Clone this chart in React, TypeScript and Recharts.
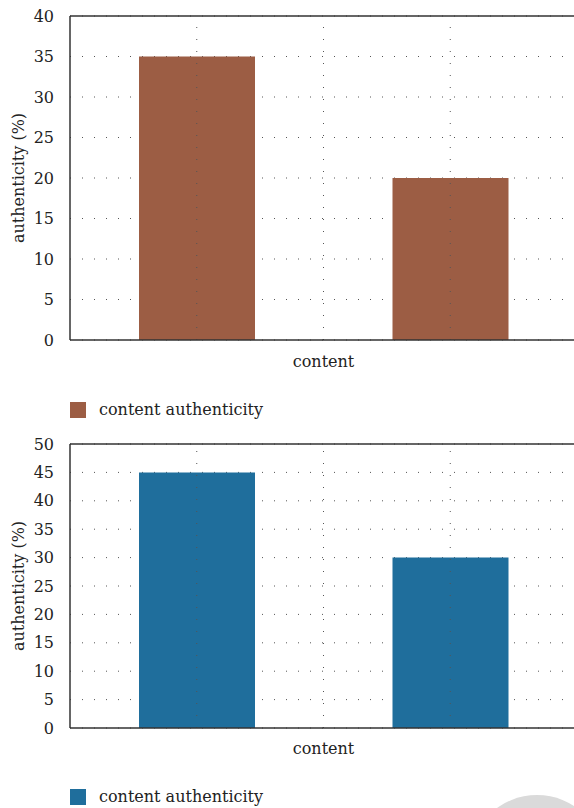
import React from 'react';
import { BarChart, Bar, XAxis, YAxis, CartesianGrid, Legend, ReferenceLine } from 'recharts';

const categories = ['content A', 'content B'];
const topValues = [35, 20];
const bottomValues = [45, 30];
const topTicks = [0, 5, 10, 15, 20, 25, 30, 35, 40];
const bottomTicks = [0, 5, 10, 15, 20, 25, 30, 35, 40, 45, 50];
const seriesName = 'content authenticity';
const xLabel = 'content';
const yLabel = 'authenticity (%)';

const FONT = '"DejaVu Serif", serif';
const FS = 16;
const TEXT = '#222';
const GRID = '#555';

const xTicks: number[] = [];
for (let i = 0; i <= categories.length * 2; i++) xTicks.push(i / 2);

function build(values: number[]) {
  return categories.map((c, i) => ({ category: c, pos: i + 0.5, value: values[i] }));
}

function LegendBox({ color }: { color: string }) {
  return (
    <div style={{ display: 'flex', alignItems: 'center', fontFamily: FONT, fontSize: FS, color: TEXT, lineHeight: '22px', height: 22 }}>
      <span style={{ display: 'inline-block', width: 16, height: 16, background: color, marginRight: 13 }} />
      {seriesName}
    </div>
  );
}

function Panel({ values, ticks, color, height, marginTop, marginBottom, legendTop, labelOffset }: any) {
  const data = build(values);
  const max = ticks[ticks.length - 1];
  return (
    <BarChart width={580} height={height} data={data} margin={{ top: marginTop, right: 3, bottom: marginBottom, left: 0 }}>
      <CartesianGrid stroke={GRID} strokeDasharray="1 11" strokeWidth={1} vertical={false} />
      <XAxis
        dataKey="pos"
        type="number"
        domain={[0, categories.length]}
        ticks={xTicks}
        tick={false}
        tickLine={false}
        height={30}
        axisLine={{ stroke: '#333', strokeWidth: 1.5 }}
        label={{ value: xLabel, position: 'insideBottom', offset: labelOffset, fill: TEXT, fontSize: FS, fontFamily: FONT }}
      />
      <YAxis
        type="number"
        domain={[0, max]}
        ticks={ticks}
        interval={0}
        width={70}
        tickLine={false}
        tickMargin={10}
        axisLine={{ stroke: '#333', strokeWidth: 1.5 }}
        tick={{ fill: TEXT, fontSize: FS, fontFamily: FONT }}
        label={{ value: yLabel, angle: -90, position: 'insideLeft', offset: 18, fill: TEXT, fontSize: FS, fontFamily: FONT, style: { textAnchor: 'middle' } }}
      />
      {xTicks.slice(1).map((t) => (
        <ReferenceLine key={t} x={t} stroke={GRID} strokeDasharray="1 11" strokeWidth={1} />
      ))}
      <Legend
        verticalAlign="bottom"
        align="left"
        layout="horizontal"
        wrapperStyle={{ top: legendTop, left: 70, width: 'auto', bottom: 'auto' }}
        content={() => <LegendBox color={color} />}
      />
      <Bar dataKey="value" name={seriesName} fill={color} barSize={116} isAnimationActive={false} />
      <ReferenceLine y={max} stroke="#333" strokeWidth={1.5} />
    </BarChart>
  );
}

export default function App() {
  return (
    <div style={{ position: 'absolute', left: 0, top: 0, width: 574, height: 808, overflow: 'hidden', background: '#fff' }}>
      <div style={{ position: 'absolute', left: 0, top: 0 }}>
        <Panel values={topValues} ticks={topTicks} color="#9c5d44" height={430} marginTop={16} marginBottom={38} legendTop={399} labelOffset={3} />
      </div>
      <div style={{ position: 'absolute', left: 0, top: 430 }}>
        <Panel values={bottomValues} ticks={bottomTicks} color="#1f6e9c" height={378} marginTop={14} marginBottom={28} legendTop={356} labelOffset={4} />
      </div>
      <div style={{ position: 'absolute', left: 469, top: 795, width: 136, height: 136, borderRadius: '50%', background: '#dadada' }} />
    </div>
  );
}
